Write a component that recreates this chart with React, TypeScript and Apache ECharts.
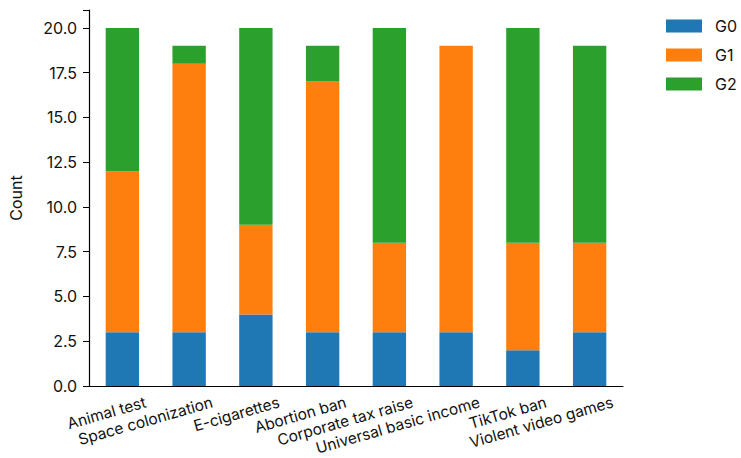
import React, { useEffect, useRef } from "react";
import * as echarts from "echarts";

const categories = [
  "Animal test",
  "Space colonization",
  "E-cigarettes",
  "Abortion ban",
  "Corporate tax raise",
  "Universal basic income",
  "TikTok ban",
  "Violent video games",
];
const g0 = [3, 3, 4, 3, 3, 3, 2, 3];
const g1 = [9, 15, 5, 14, 5, 16, 6, 5];
const g2 = [8, 1, 11, 2, 12, 0, 12, 11];
const seriesNames = ["G0", "G1", "G2"];
const colors = ["#1f77b4", "#ff7f0e", "#2ca02c"];

const FONT = "Inter, 'DejaVu Sans', sans-serif";
const TEXT_COLOR = "#111";
const FONT_SIZE = 16;
const XLABEL_SIZE = 15.5;
const LABEL_ROTATE = 16;
const LABEL_DX = 21;
const LABEL_DY = 8;

export default function App() {
  const ref = useRef<HTMLDivElement>(null);
  useEffect(() => {
    document.body.style.margin = "0";
    if (!ref.current) return;
    const chart = echarts.init(ref.current, undefined, { renderer: "svg" });
    const data = [g0, g1, g2];
    chart.setOption({
      animation: false,
      textStyle: { fontFamily: FONT },
      grid: { left: 89, right: 118, top: 10, bottom: 72 },
      legend: {
        orient: "vertical",
        left: 666,
        top: 18,
        padding: 0,
        itemWidth: 36,
        itemHeight: 13,
        itemGap: 13,
        icon: "rect",
        textStyle: { fontSize: FONT_SIZE, color: TEXT_COLOR, fontFamily: FONT, padding: [0, 0, 0, 8] },
        data: seriesNames,
      },
      xAxis: {
        type: "category",
        data: categories,
        axisLine: { lineStyle: { color: "#000", width: 1.2 } },
        axisTick: { alignWithLabel: true, length: 6, lineStyle: { color: "#000" } },
        axisLabel: { show: false },
      },
      yAxis: {
        type: "value",
        min: 0,
        max: 21,
        interval: 2.5,
        name: "Count",
        nameLocation: "middle",
        nameGap: 65,
        nameTextStyle: { fontSize: FONT_SIZE, color: TEXT_COLOR, fontFamily: FONT },
        axisLine: { show: true, lineStyle: { color: "#000", width: 1.2 } },
        axisTick: { show: true, length: 6, lineStyle: { color: "#000" } },
        splitLine: { show: false },
        axisLabel: {
          fontSize: FONT_SIZE,
          color: TEXT_COLOR,
          margin: 12,
          fontFamily: FONT,
          formatter: (v: number) => (v > 20 ? "" : v.toFixed(1)),
        },
      },
      series: seriesNames.map((name, i) => ({
        name,
        type: "bar",
        stack: "total",
        barWidth: "50%",
        itemStyle: { color: colors[i] },
        data: data[i],
      })),
    });
    const y0 = chart.convertToPixel({ yAxisIndex: 0 }, 0) as number;
    chart.setOption({
      graphic: categories.map((c, i) => {
        const x = chart.convertToPixel({ xAxisIndex: 0 }, i) as number;
        return {
          type: "text",
          x: x + LABEL_DX,
          y: y0 + LABEL_DY,
          rotation: (LABEL_ROTATE * Math.PI) / 180,
          silent: true,
          style: {
            text: c,
            fontSize: XLABEL_SIZE,
            fontFamily: FONT,
            fill: TEXT_COLOR,
            textAlign: "right",
            textVerticalAlign: "top",
            align: "right",
            verticalAlign: "top",
          },
        };
      }),
    });
    return () => chart.dispose();
  }, []);
  return <div ref={ref} style={{ width: 741, height: 458 }} />;
}
